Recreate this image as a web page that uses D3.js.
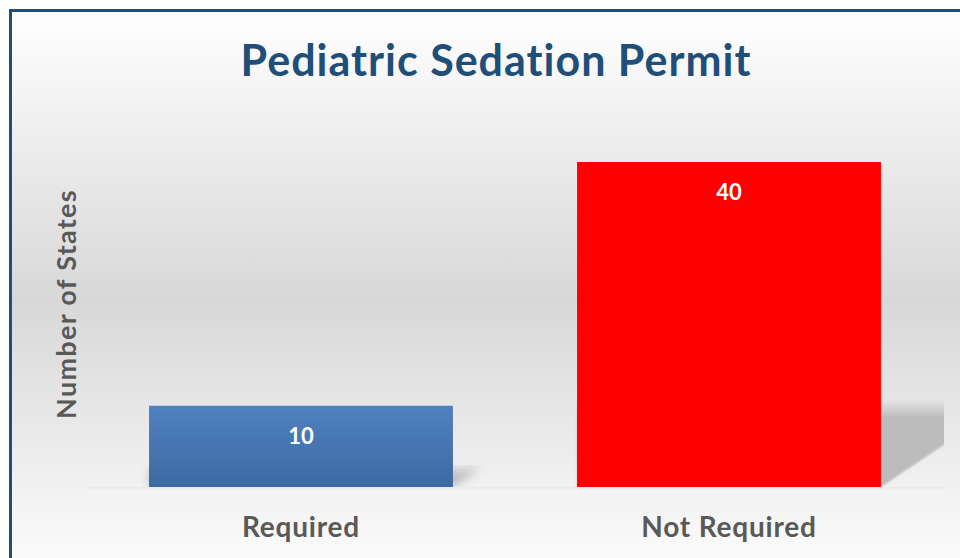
<!DOCTYPE html>
<html><head><meta charset="utf-8">
<script src="https://cdn.jsdelivr.net/npm/d3@7/dist/d3.min.js"></script>
<style>html,body{margin:0;padding:0;background:#fff;}svg{display:block;}</style>
</head><body>
<svg id="chart" width="960" height="558"></svg>
<script>
const title = "Pediatric Sedation Permit";
const yAxisTitle = "Number of States";
const categories = ["Required", "Not Required"];
const values = [10, 40];
const barColors = ["blue", "red"];

const W = 960, H = 558;
const svg = d3.select("#chart");
const defs = svg.append("defs");
const font = "Lato, 'Open Sans', sans-serif";

// background gradient
const bg = defs.append("linearGradient").attr("id","bg").attr("x1",0).attr("y1",0).attr("x2",0).attr("y2",1);
bg.append("stop").attr("offset","0").attr("stop-color","#ffffff");
bg.append("stop").attr("offset","0.5").attr("stop-color","#d8d8d8");
bg.append("stop").attr("offset","1").attr("stop-color","#ffffff");

const blueGrad = defs.append("linearGradient").attr("id","blue").attr("x1",0).attr("y1",0).attr("x2",0).attr("y2",1);
blueGrad.append("stop").attr("offset","0").attr("stop-color","#5082bf");
blueGrad.append("stop").attr("offset","1").attr("stop-color","#3c69a2");

svg.append("rect").attr("x",0).attr("y",0).attr("width",W).attr("height",H).attr("fill","#fff");
svg.append("rect").attr("x",12).attr("y",12).attr("width",W).attr("height",576).attr("fill","url(#bg)");

const plot = {left: 87, right: 943, top: 100, bottom: 487};
const x = d3.scaleBand().domain(categories).range([plot.left, plot.right]).paddingInner(0.29).paddingOuter(0.145);
const y = d3.scaleLinear().domain([0, 40]).range([plot.bottom, 162]);

// floor line
svg.append("rect").attr("x",plot.left).attr("y",plot.bottom).attr("width",plot.right-plot.left).attr("height",2).attr("fill","#ebebeb");

// shadows
defs.append("clipPath").attr("id","plotclip").append("rect")
  .attr("x",0).attr("y",0).attr("width",plot.right+1).attr("height",plot.bottom);
const shadowG = svg.append("g").attr("clip-path","url(#plotclip)");
categories.forEach((c,i)=>{
  const xL = x(c), xR = x(c)+x.bandwidth(), bot = y(0);
  const sh = (bot - y(values[i]))*0.27;
  const top = bot - sh;
  const gid = "sg"+i, fid = "sf"+i;
  const g = defs.append("linearGradient").attr("id",gid).attr("gradientUnits","userSpaceOnUse")
    .attr("x1",0).attr("y1",top).attr("x2",0).attr("y2",top+Math.min(18, sh*0.4));
  g.append("stop").attr("offset","0").attr("stop-color","#bcbcbc").attr("stop-opacity",0);
  g.append("stop").attr("offset","1").attr("stop-color","#bcbcbc").attr("stop-opacity",1);
  const f = defs.append("filter").attr("id",fid).attr("x","-50%").attr("y","-50%").attr("width","200%").attr("height","200%");
  f.append("feGaussianBlur").attr("stdDeviation", Math.min(5, 110/sh));
  const slope = 0.67, ext = 200;
  const pts = [[xL, bot],[xR, bot],[xR+ext, bot-ext*slope],[xR+ext, top],[xL, top]];
  const cid = "sc"+i;
  defs.append("clipPath").attr("id",cid).append("rect").attr("x",0).attr("y",top).attr("width",W).attr("height",sh+10);
  shadowG.append("g").attr("clip-path","url(#"+cid+")").append("polygon")
    .attr("points", pts.map(p=>p.join(",")).join(" "))
    .attr("fill","url(#"+gid+")")
    .attr("filter","url(#"+fid+")");
});

// bars
svg.selectAll("rect.bar").data(categories).enter().append("rect").attr("class","bar")
  .attr("x", d=>x(d)).attr("width", x.bandwidth())
  .attr("y", (d,i)=>y(values[i])).attr("height", (d,i)=>y(0)-y(values[i]))
  .attr("fill", (d,i)=> barColors[i]==="blue" ? "url(#blue)" : "#ff0000");

// value labels
svg.selectAll("text.val").data(categories).enter().append("text").attr("class","val")
  .attr("x", d=>x(d)+x.bandwidth()/2).attr("y",(d,i)=>y(values[i])+38)
  .attr("text-anchor","middle").attr("font-family",font).attr("font-weight","bold")
  .attr("font-size",22).attr("fill","#fff").text((d,i)=>values[i]);

// x axis labels
const xAxis = d3.axisBottom(x).tickSize(0).tickPadding(0);
const xg = svg.append("g").attr("transform","translate(0,"+(plot.bottom)+")").call(xAxis);
xg.select(".domain").remove();
xg.selectAll("text").attr("dy",null).attr("y",50).attr("font-family",font).attr("font-weight","bold")
  .attr("font-size",28).attr("letter-spacing","0.8px").attr("fill","#595959");

// y title
svg.append("text").attr("transform","translate(76,304) rotate(-90)").attr("text-anchor","middle")
  .attr("font-family",font).attr("font-weight","bold").attr("font-size",27).attr("letter-spacing","1.3px")
  .attr("fill","#595959").text(yAxisTitle);

// title
svg.append("text").attr("x",496).attr("y",76).attr("text-anchor","middle")
  .attr("font-family",font).attr("font-weight","bold").attr("font-size",43).attr("letter-spacing","1px")
  .attr("fill","#1f4e79").text(title);

// border
svg.append("path").attr("d","M10.5,"+H+" V10.5 H"+W).attr("fill","none").attr("stroke","#1f4e79").attr("stroke-width",3);
</script>
</body></html>
